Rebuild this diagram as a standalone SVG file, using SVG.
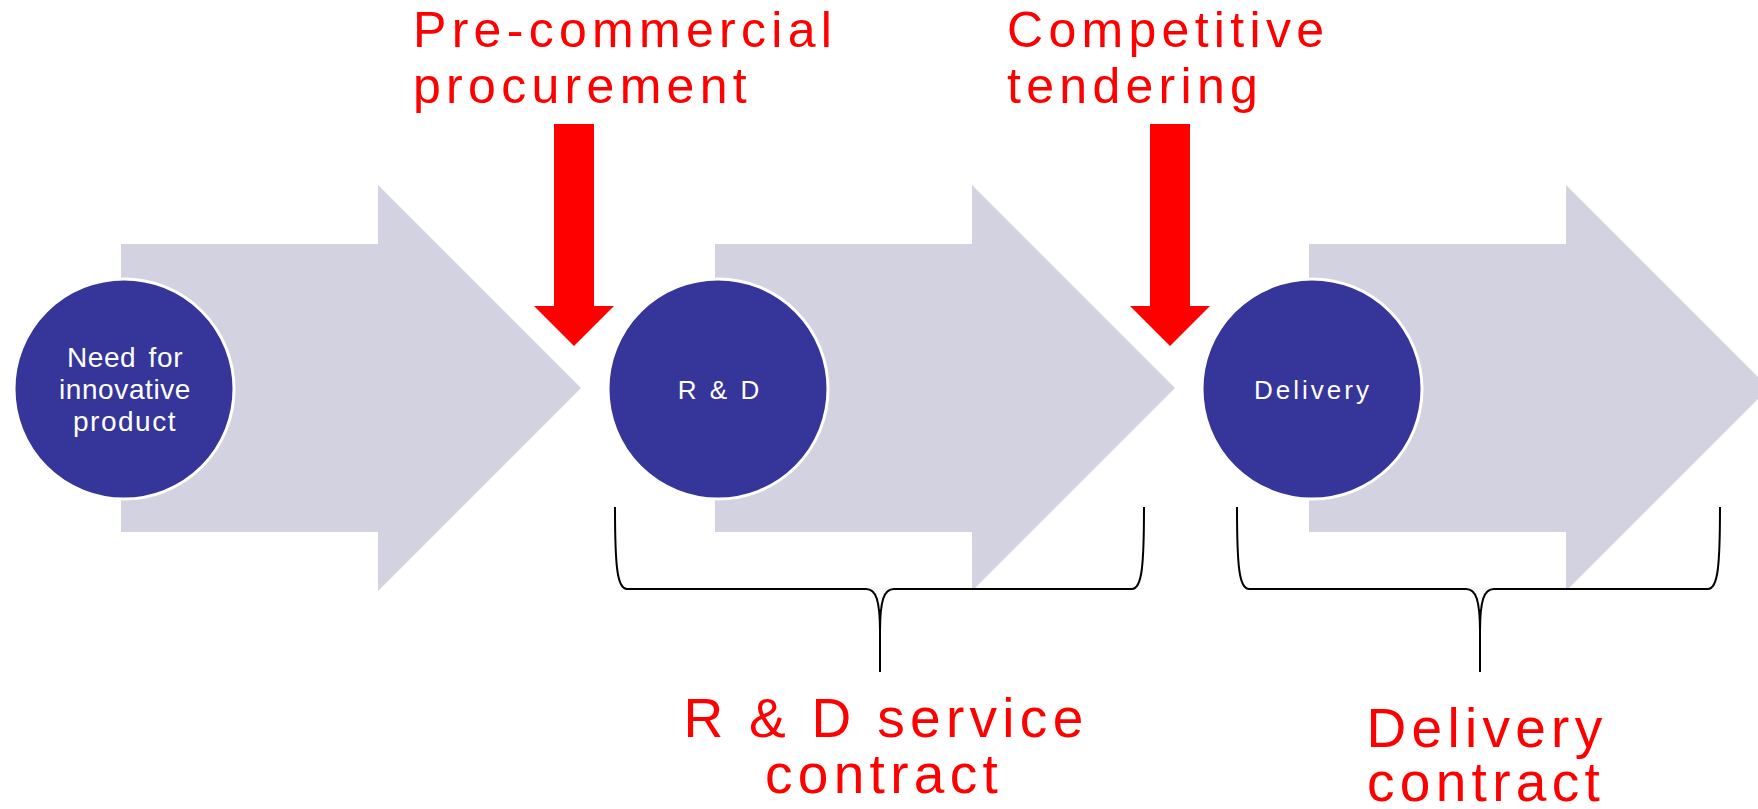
<svg xmlns="http://www.w3.org/2000/svg" width="1758" height="809" viewBox="0 0 1758 809">
  <defs>
    <style>
      .stage { fill: #D2D2E1; }
      .disc { fill: #35359A; stroke: #FFFFFF; stroke-width: 3; }
      .disc-label { fill: #FFFFFF; font-family: "Liberation Sans", Arial, sans-serif; font-size: 26px; text-anchor: middle; }
      .pointer { fill: #FF0000; }
      .callout { fill: #FF0000; font-family: "Liberation Sans", Arial, sans-serif; font-size: 50px; letter-spacing: 5.3px; }
      .contract { fill: #FF0000; font-family: "Liberation Sans", Arial, sans-serif; font-size: 55px; letter-spacing: 5.3px; text-anchor: middle; }
      .brace { fill: none; stroke: #000000; stroke-width: 2; }
    </style>
    <path id="stage-arrow" d="M121,244 L378,244 L378,185 L581,388 L378,591 L378,532 L121,532 Z"/>
    <path id="down-arrow" d="M554,124 H594 V306 H614 L574,346 L534,306 H554 Z"/>
  </defs>

  <rect width="1758" height="809" fill="#FFFFFF"/>

  <!-- process stages: broad arrow with a disc at its tail -->
  <g id="stage-need">
    <use href="#stage-arrow" class="stage"/>
    <circle class="disc" cx="124" cy="389" r="110"/>
    <text class="disc-label" x="125" y="367" style="font-size:28px;word-spacing:4px;letter-spacing:0.6px">Need for</text>
    <text class="disc-label" x="125" y="399" style="font-size:28px;letter-spacing:0.6px">innovative</text>
    <text class="disc-label" x="125" y="431" style="font-size:28px;letter-spacing:1.5px">product</text>
  </g>

  <g id="stage-rd">
    <use href="#stage-arrow" class="stage" transform="translate(594,0)"/>
    <circle class="disc" cx="718" cy="389" r="110"/>
    <text class="disc-label" x="720" y="399" style="letter-spacing:3px">R &amp; D</text>
  </g>

  <g id="stage-delivery">
    <use href="#stage-arrow" class="stage" transform="translate(1188,0)"/>
    <circle class="disc" cx="1312" cy="389" r="110"/>
    <text class="disc-label" x="1313" y="399" style="letter-spacing:3px">Delivery</text>
  </g>

  <!-- procurement steps entering between stages -->
  <g id="step-pcp">
    <use href="#down-arrow" class="pointer"/>
    <text class="callout" x="413" y="47">Pre-commercial</text>
    <text class="callout" x="413" y="103">procurement</text>
  </g>

  <g id="step-tender">
    <use href="#down-arrow" class="pointer" transform="translate(596,0)"/>
    <text class="callout" x="1007" y="47">Competitive</text>
    <text class="callout" x="1007" y="103">tendering</text>
  </g>

  <!-- braces grouping the contract scopes -->
  <g id="connectors">
    <path class="brace" d="M615,507 C615,565 617,589 627,589 L866,589 C876,589 880,600 880,632 L880,672 M880,632 C880,600 884,589 894,589 L1132,589 C1142,589 1144,565 1144,507"/>
    <path class="brace" d="M1237,507 C1237,565 1239,589 1249,589 L1466,589 C1476,589 1480,600 1480,632 L1480,672 M1480,632 C1480,600 1484,589 1494,589 L1708,589 C1718,589 1720,565 1720,507"/>
  </g>

  <g id="label-rd-contract">
    <text class="contract" x="886" y="737">R &amp; D service</text>
    <text class="contract" x="884" y="793">contract</text>
  </g>

  <g id="label-delivery-contract">
    <text class="contract" x="1487" y="747">Delivery</text>
    <text class="contract" x="1486" y="801">contract</text>
  </g>
</svg>
